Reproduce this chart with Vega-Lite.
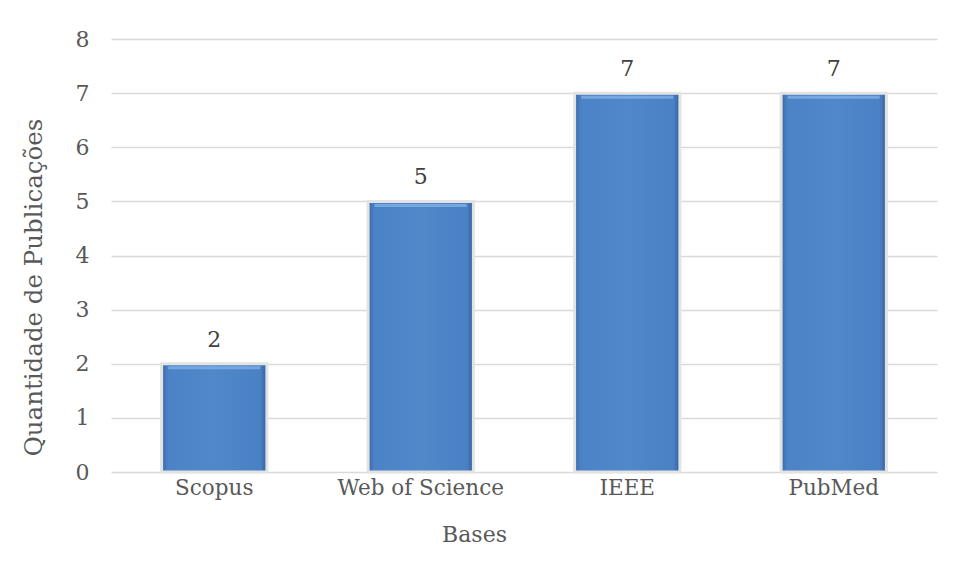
{
  "$schema": "https://vega.github.io/schema/vega-lite/v6.json",
  "width": 826,
  "height": 433,
  "autosize": {"type": "none"},
  "padding": {"left": 111, "top": 39, "right": 18, "bottom": 105},
  "background": "white",
  "config": {
    "view": {"stroke": null},
    "font": "DejaVu Serif",
    "axis": {"labelFont": "DejaVu Serif", "titleFont": "DejaVu Serif", "labelColor": "#595959", "titleColor": "#595959", "titleFontWeight": "normal"}
  },
  "data": {"values": [
    {"base": "Scopus", "qtd": 2},
    {"base": "Web of Science", "qtd": 5},
    {"base": "IEEE", "qtd": 7},
    {"base": "PubMed", "qtd": 7}
  ]},
  "encoding": {
    "x": {"field": "base", "type": "nominal", "sort": null,
      "scale": {"paddingInner": 0.49, "paddingOuter": 0.245},
      "axis": {"title": "Bases", "labelAngle": 0, "labelFontSize": 21.5, "titleFontSize": 22, "domain": false, "ticks": false, "labelPadding": 5, "titlePadding": 26, "titleX": 363}},
    "y": {"field": "qtd", "type": "quantitative",
      "scale": {"domain": [0, 8]},
      "axis": {"title": "Quantidade de Publicações", "values": [0,1,2,3,4,5,6,7,8], "labelOverlap": false, "labelFontSize": 22, "titleFontSize": 24.5, "domain": false, "ticks": false, "labelPadding": 22, "titlePadding": 29, "titleY": 248, "gridColor": "#d9d9d9", "gridWidth": 1.5}}
  },
  "layer": [
    {"mark": {"type": "bar", "stroke": "#e3e3e3", "strokeWidth": 3,
      "color": {"gradient": "linear", "x1": 0, "x2": 1, "y1": 0, "y2": 0,
        "stops": [{"offset": 0, "color": "#3a6aa8"}, {"offset": 0.06, "color": "#4c82c6"}, {"offset": 0.5, "color": "#5188ca"}, {"offset": 0.94, "color": "#4a80c4"}, {"offset": 1, "color": "#325f9c"}]}}},
    {"mark": {"type": "tick", "size": 92, "thickness": 3, "color": "#86b6ea", "yOffset": 4}},
    {"mark": {"type": "text", "dy": -24, "fontSize": 22, "color": "#404040", "font": "DejaVu Serif"},
      "encoding": {"text": {"field": "qtd", "type": "quantitative"}}}
  ]
}
